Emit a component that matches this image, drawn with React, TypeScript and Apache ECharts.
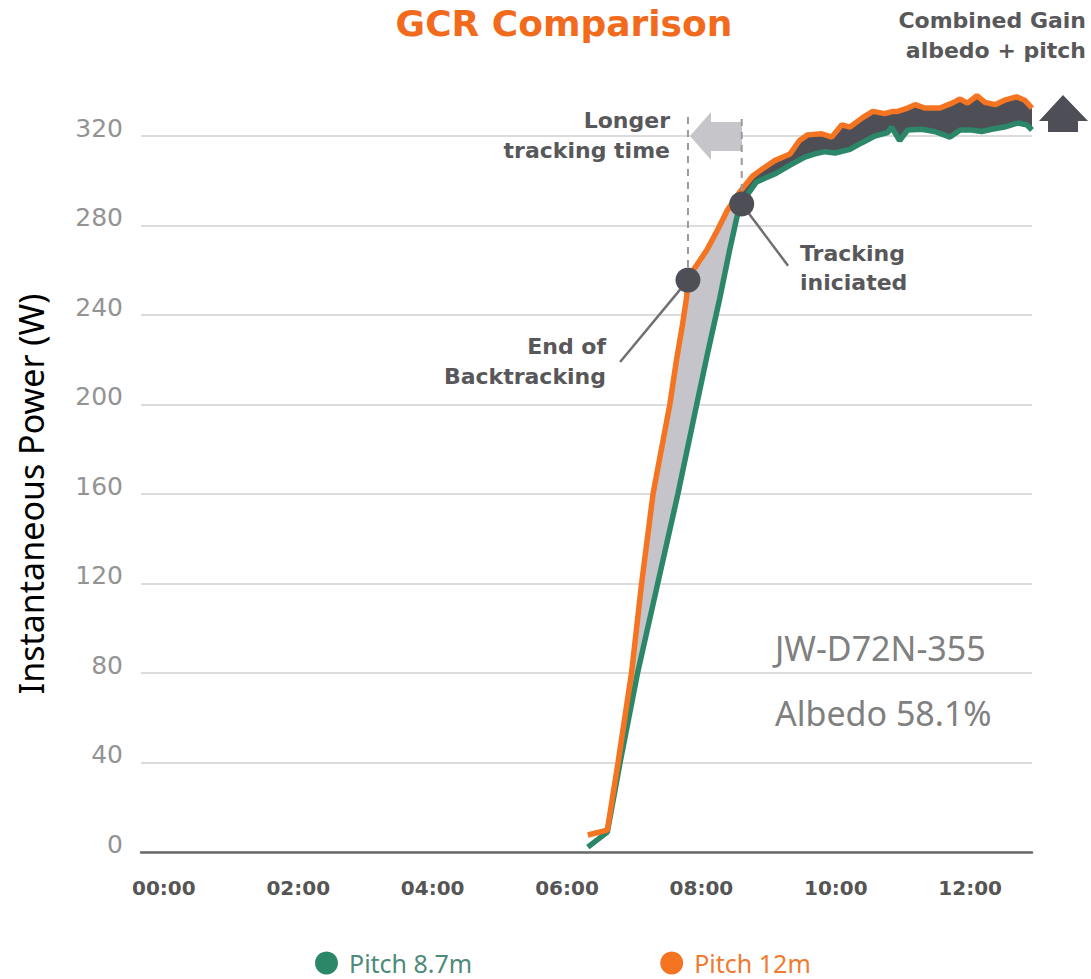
import React, { useEffect, useRef } from "react";
import * as echarts from "echarts";

// Time axis (hours of the day) and power axis ticks
const tickHours = [0, 2, 4, 6, 8, 10, 12];
const powerTicks = [0, 40, 80, 120, 160, 200, 240, 280, 320];

// Instantaneous power [hour, W] for each pitch
const pitch87m: number[][] = [
  [6.31, 2.2], [6.6, 8.9], [6.79, 40], [7.05, 80], [7.35, 120], [7.65, 160],
  [7.93, 200], [8.1, 224], [8.27, 247], [8.42, 269], [8.53, 284], [8.62, 291],
  [8.69, 294], [8.82, 299.5], [9.09, 303], [9.32, 307], [9.54, 310.6],
  [9.69, 312], [9.84, 313], [9.99, 312.4], [10.21, 314], [10.39, 317],
  [10.58, 320], [10.77, 321.5], [10.83, 324], [10.95, 318], [11.07, 322.7],
  [11.28, 323], [11.47, 322], [11.7, 319.5], [11.85, 322.7], [12.02, 322.7],
  [12.17, 322], [12.32, 323], [12.51, 324], [12.71, 325.8], [12.84, 325],
  [12.92, 322.7],
];

const pitch12m: number[][] = [
  [6.31, 7.6], [6.6, 9.8], [6.76, 40], [6.96, 80], [7.11, 120], [7.28, 160],
  [7.53, 200], [7.63, 220], [7.72, 236], [7.78, 248], [7.8, 256], [7.9, 261],
  [8.08, 269], [8.24, 278], [8.39, 287], [8.57, 295], [8.76, 302],
  [8.87, 304.5], [9.09, 309], [9.32, 312], [9.46, 318], [9.58, 320.5],
  [9.79, 321], [9.94, 319.5], [10.09, 325], [10.21, 324], [10.39, 328],
  [10.55, 331], [10.73, 330], [10.85, 331], [10.92, 331], [11.07, 332.5],
  [11.18, 334], [11.32, 332.5], [11.55, 332.5], [11.73, 334.7],
  [11.85, 336.5], [11.96, 334.7], [12.1, 338], [12.22, 335], [12.37, 334],
  [12.51, 336], [12.69, 337.5], [12.81, 336], [12.92, 332.5],
];

// Event markers [hour, W]
const endOfBacktracking = [7.8, 255.6];
const trackingInitiated = [8.6, 289.6];
const guideTop = 328.5;
const endLeaderTo = [6.79, 219];
const trackingLeaderTo = [9.29, 262];

// Shading split: backtracking gain before tracking starts, combined gain after
const gainStart = 6.76;
const trackingHour = 8.6;

const ORANGE = "#f47421";
const GREEN = "#2b8767";
const DARK = "#4e4e56";
const LIGHT_FILL = "#c4c4ca";
const LABEL_GREY = "#58585a";
const HEAVY_FONT = "DejaVu Sans";

function hourLabel(v: number) {
  return `${String(v).padStart(2, "0")}:00`;
}

export default function App() {
  const ref = useRef<HTMLDivElement>(null);

  useEffect(() => {
    if (!ref.current) return;
    const chart = echarts.init(ref.current, undefined, { renderer: "svg" });

    const annotation = (text: string, x: number, y: number, align: string) => ({
      type: "text",
      x,
      y,
      z: 20,
      style: {
        text,
        fill: LABEL_GREY,
        fontSize: 22,
        fontWeight: "bold",
        fontFamily: HEAVY_FONT,
        align,
        verticalAlign: "middle",
      },
    });

    chart.setOption({
      animation: false,
      title: {
        text: "GCR Comparison",
        left: 564,
        top: 1,
        textAlign: "center",
        padding: 0,
        textStyle: {
          color: "#f26b1d",
          fontSize: 36,
          lineHeight: 44,
          fontWeight: "bold",
          fontFamily: HEAVY_FONT,
        },
      },
      grid: { left: 141, right: 59, top: 136, bottom: 127 },
      legend: {
        left: 315,
        top: 948,
        padding: 0,
        icon: "circle",
        itemWidth: 23,
        itemHeight: 23,
        itemGap: 188,
        selectedMode: false,
        textStyle: {
          fontSize: 25,
          lineHeight: 30,
          fontFamily: "Noto Sans",
          padding: [0, 0, 0, 6],
        },
        data: [
          { name: "Pitch 8.7m", textStyle: { color: "#4d8a79" } },
          { name: "Pitch 12m", textStyle: { color: "#ef7a30" } },
        ],
      },
      xAxis: {
        type: "value",
        min: -0.34,
        max: 12.92,
        axisLine: { lineStyle: { color: "#6a6a6a", width: 2.5 } },
        axisTick: { show: false },
        splitLine: { show: false },
        axisLabel: {
          customValues: tickHours,
          formatter: (v: number) => hourLabel(v),
          color: "#555555",
          fontSize: 20,
          fontWeight: "bold",
          fontFamily: HEAVY_FONT,
          margin: 26,
        },
      },
      yAxis: {
        type: "value",
        min: 0,
        max: 320,
        interval: 40,
        name: "Instantaneous Power (W)",
        nameLocation: "middle",
        nameRotate: 90,
        nameGap: 93,
        nameTextStyle: {
          color: "#000000",
          fontSize: 34,
          fontFamily: "Noto Sans",
        },
        axisLine: { show: false },
        axisTick: { show: false },
        splitLine: { lineStyle: { color: "#dcdcdc", width: 2 } },
        axisLabel: {
          customValues: powerTicks,
          color: "#939393",
          fontSize: 25,
          fontFamily: "DejaVu Sans",
          margin: 18,
          verticalAlign: "bottom",
          lineHeight: 16,
        },
      },
      series: [
        {
          name: "gain",
          type: "custom",
          z: 1,
          silent: true,
          data: [[7, 100]],
          renderItem: (_params: any, api: any) => {
            const pts = (arr: number[][]) => arr.map((p) => api.coord(p));
            const o1 = pitch12m.filter((p) => p[0] >= gainStart && p[0] <= trackingHour);
            const g1 = pitch87m.filter((p) => p[0] >= gainStart && p[0] <= trackingHour + 0.02).reverse();
            const o2 = pitch12m.filter((p) => p[0] >= trackingHour - 0.03);
            const g2 = pitch87m.filter((p) => p[0] >= trackingHour).reverse();
            return {
              type: "group",
              children: [
                {
                  type: "polygon",
                  shape: { points: [...pts(o1), ...pts(g1)] },
                  style: { fill: LIGHT_FILL },
                },
                {
                  type: "polygon",
                  shape: { points: [...pts(o2), ...pts(g2)] },
                  style: { fill: DARK },
                },
              ],
            };
          },
        },
        {
          name: "Pitch 8.7m",
          type: "line",
          z: 3,
          clip: false,
          showSymbol: false,
          itemStyle: { color: GREEN },
          lineStyle: { color: GREEN, width: 5.5 },
          data: pitch87m,
        },
        {
          name: "Pitch 12m",
          type: "line",
          z: 4,
          clip: false,
          showSymbol: false,
          itemStyle: { color: ORANGE },
          lineStyle: { color: ORANGE, width: 5.5 },
          data: pitch12m,
        },
        {
          name: "guide-end",
          type: "line",
          z: 5,
          clip: false,
          showSymbol: false,
          lineStyle: { color: "#9a9a9a", width: 2, type: [7, 6] },
          data: [endOfBacktracking, [endOfBacktracking[0], guideTop]],
        },
        {
          name: "guide-tracking",
          type: "line",
          z: 5,
          clip: false,
          showSymbol: false,
          lineStyle: { color: "#9a9a9a", width: 2, type: [7, 6] },
          data: [trackingInitiated, [trackingInitiated[0], guideTop]],
        },
        {
          name: "leader-end",
          type: "line",
          z: 5,
          clip: false,
          showSymbol: false,
          lineStyle: { color: "#707070", width: 2.5 },
          data: [endOfBacktracking, endLeaderTo],
        },
        {
          name: "leader-tracking",
          type: "line",
          z: 5,
          clip: false,
          showSymbol: false,
          lineStyle: { color: "#707070", width: 2.5 },
          data: [trackingInitiated, trackingLeaderTo],
        },
        {
          name: "events",
          type: "scatter",
          z: 6,
          symbolSize: 25,
          itemStyle: { color: DARK, opacity: 1 },
          data: [endOfBacktracking, trackingInitiated],
        },
      ],
      graphic: [
        {
          type: "polygon",
          z: 1,
          shape: {
            points: [
              [690, 136], [711, 112], [711, 122], [742, 122],
              [742, 151], [711, 151], [711, 160],
            ],
          },
          style: { fill: "#c6c6ca" },
        },
        {
          type: "polygon",
          z: 1,
          shape: {
            points: [
              [1063, 95], [1088, 121], [1078, 121], [1078, 132],
              [1048, 132], [1048, 121], [1039, 121],
            ],
          },
          style: { fill: DARK },
        },
        annotation("Combined Gain", 1086, 20, "right"),
        annotation("albedo + pitch", 1086, 50, "right"),
        annotation("Longer", 670, 120, "right"),
        annotation("tracking time", 670, 150, "right"),
        annotation("Tracking", 800, 253, "left"),
        annotation("iniciated", 800, 282, "left"),
        annotation("End of", 606, 346, "right"),
        annotation("Backtracking", 606, 376, "right"),
        {
          type: "text",
          x: 775,
          y: 648,
          z: 20,
          style: {
            text: "JW-D72N-355",
            fill: "#808080",
            fontSize: 34,
            fontFamily: "Noto Sans",
            align: "left",
            verticalAlign: "middle",
          },
        },
        {
          type: "text",
          x: 775,
          y: 713,
          z: 20,
          style: {
            text: "Albedo 58.1%",
            fill: "#808080",
            fontSize: 34,
            fontFamily: "Noto Sans",
            align: "left",
            verticalAlign: "middle",
          },
        },
      ],
    });

    return () => chart.dispose();
  }, []);

  return (
    <div
      ref={ref}
      style={{ position: "fixed", left: 0, top: 0, width: 1091, height: 979, background: "#ffffff" }}
    />
  );
}
